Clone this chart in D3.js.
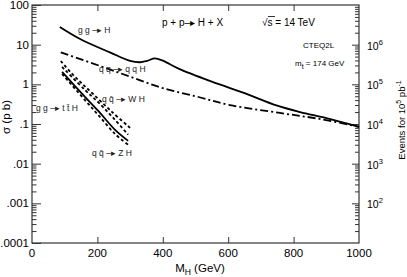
<!DOCTYPE html>
<html>
<head>
<meta charset="utf-8">
<script src="https://cdnjs.cloudflare.com/ajax/libs/d3/7.8.5/d3.min.js"></script>
<style>
  body { margin: 0; background: #fff; }
  svg { font-family: "Liberation Sans", Arial, Helvetica, sans-serif; }
</style>
</head>
<body>
<div id="chart"></div>
<script>
// Higgs production cross sections, p+p at 14 TeV
const massGGH = [85, 150, 240, 300, 330, 352, 376, 400, 450, 550, 650, 750, 820, 900, 1000];
const xsecGGH = [27.9, 13.5, 6.3, 3.9, 3.6, 3.9, 4.5, 3.95, 2.45, 1.17, 0.60, 0.29, 0.20, 0.14, 0.085];

const massQQH = [88, 208, 300, 400, 505, 605, 758, 880, 1000];
const xsecQQH = [6.4, 2.9, 1.56, 0.80, 0.49, 0.30, 0.19, 0.134, 0.085];

const massLow = [88, 122, 153, 187, 245, 300];
const xsecWH  = [3.88, 1.86, 1.04, 0.57, 0.20, 0.08];

const massLow2 = [92, 162, 208, 254, 294];
const xsecVH2 = [2.74, 0.72, 0.32, 0.127, 0.054];
const xsecTTH = [2.05, 0.48, 0.19, 0.071, 0.0375];
const xsecZH  = [1.83, 0.40, 0.15, 0.056, 0.030];

const xTicks = [0, 200, 400, 600, 800, 1000];
const yTicks = [100, 10, 1, 0.1, 0.01, 0.001, 0.0001];
const yTickLabels = ["100", "10", "1", ".1", ".01", ".001", ".0001"];
const evTicks = [1e2, 1e3, 1e4, 1e5, 1e6];
const evExp = ["2", "3", "4", "5", "6"];

const W = 407, H = 277;
const mL = 32, mR = 359, mT = 5, mB = 243;

const svg = d3.select("#chart").append("svg")
    .attr("width", W)
    .attr("height", H);

const x = d3.scaleLinear().domain([0, 1000]).range([mL, mR]);
const y = d3.scaleLog().domain([0.0001, 100]).range([mB, mT]);
const yEv = d3.scaleLog().domain([10, 1e7]).range([mB, mT]);

const line = d3.line()
    .x(d => x(d[0]))
    .y(d => y(d[1]))
    .curve(d3.curveCatmullRom.alpha(0.5));

// frame
svg.append("rect")
    .attr("x", mL).attr("y", mT)
    .attr("width", mR - mL).attr("height", mB - mT)
    .attr("fill", "none").attr("stroke", "#333").attr("stroke-width", 1.2);

// left axis: major and minor ticks inward
svg.append("g").attr("transform", `translate(${mL},0)`)
    .call(d3.axisRight(y).tickValues(yTicks).tickSize(9).tickFormat(""))
    .call(g => g.select(".domain").remove());

let minors = [];
for (let e = -4; e < 2; e++) {
    for (let k = 2; k <= 9; k++) minors.push(k * Math.pow(10, e));
}
svg.append("g").attr("transform", `translate(${mL},0)`)
    .call(d3.axisRight(y).tickValues(minors).tickSize(4.5).tickFormat(""))
    .call(g => g.select(".domain").remove());

svg.append("g").selectAll("text").data(yTicks).join("text")
    .attr("x", mL - 3)
    .attr("y", d => y(d) + 4)
    .attr("text-anchor", "end")
    .attr("font-size", 11.5)
    .text((d, i) => yTickLabels[i]);

// right axis (events)
let evMinors = [];
for (let e = 1; e < 7; e++) {
    for (let k = 2; k <= 9; k++) evMinors.push(k * Math.pow(10, e));
}
svg.append("g").attr("transform", `translate(${mR},0)`)
    .call(d3.axisLeft(yEv).tickValues(evTicks).tickSize(7).tickFormat(""))
    .call(g => g.select(".domain").remove());
svg.append("g").attr("transform", `translate(${mR},0)`)
    .call(d3.axisLeft(yEv).tickValues(evMinors).tickSize(4).tickFormat(""))
    .call(g => g.select(".domain").remove());

const evLab = svg.append("g").selectAll("text").data(evTicks).join("text")
    .attr("x", mR + 8)
    .attr("y", d => yEv(d) + 5)
    .attr("font-size", 10.5);
evLab.append("tspan").text("10");
evLab.append("tspan").attr("dy", -5).attr("font-size", 7.5).text((d, i) => evExp[i]);

// x axis ticks, bottom (up) and top (down)
svg.append("g").attr("transform", `translate(0,${mB})`)
    .call(d3.axisTop(x).tickValues(xTicks.slice(1, -1)).tickSize(6).tickFormat(""))
    .call(g => g.select(".domain").remove());
svg.append("g").attr("transform", `translate(0,${mT})`)
    .call(d3.axisBottom(x).tickValues(xTicks.slice(1, -1)).tickSize(6).tickFormat(""))
    .call(g => g.select(".domain").remove());
svg.selectAll(".tick line").attr("stroke", "#333");

svg.append("g").selectAll("text").data(xTicks).join("text")
    .attr("x", d => x(d))
    .attr("y", mB + 14)
    .attr("text-anchor", "middle")
    .attr("font-size", 11.5)
    .text(d => d);

// curves
const series = [
    { m: massGGH, v: xsecGGH, dash: null },
    { m: massQQH, v: xsecQQH, dash: "8,3,2,3" },
    { m: massLow, v: xsecWH, dash: "3,2.5" },
    { m: massLow2, v: xsecVH2, dash: "3,2.5" },
    { m: massLow2, v: xsecTTH, dash: null },
    { m: massLow2, v: xsecZH, dash: "3,2.5" }
];
svg.append("g").selectAll("path").data(series).join("path")
    .attr("d", s => line(s.m.map((m, i) => [m, s.v[i]])))
    .attr("fill", "none")
    .attr("stroke", "#000")
    .attr("stroke-width", 1.8)
    .attr("stroke-dasharray", s => s.dash);

// process labels
const arrow = "\u2013\u25B8";
const labels = [
    { t: `g g ${arrow} H`, x: 78, y: 33 },
    { t: `q q ${arrow} q q H`, x: 99, y: 72 },
    { t: `q q\u0304 ${arrow} W H`, x: 102, y: 102 },
    { t: `g g ${arrow} t t\u0304 H`, x: 36, y: 111 },
    { t: `q q\u0304 ${arrow} Z H`, x: 92, y: 156 }
];
svg.append("g").selectAll("text").data(labels).join("text")
    .attr("x", d => d.x).attr("y", d => d.y)
    .attr("font-size", 8.5)
    .attr("fill", "#222")
    .text(d => d.t);

svg.append("text").attr("x", 162).attr("y", 26).attr("font-size", 10)
    .text(`p + p${arrow} H + X`);
svg.append("text").attr("x", 262).attr("y", 26).attr("font-size", 10)
    .text("\u221As = 14 TeV");
svg.append("line").attr("x1", 268).attr("x2", 275).attr("y1", 16.5).attr("y2", 16.5)
    .attr("stroke", "#000").attr("stroke-width", 0.8);
svg.append("text").attr("x", 303).attr("y", 48).attr("font-size", 8)
    .text("CTEQ2L");
const mt = svg.append("text").attr("x", 295).attr("y", 66).attr("font-size", 8);
mt.append("tspan").text("m");
mt.append("tspan").attr("dy", 3).attr("font-size", 7).text("t");
mt.append("tspan").attr("dy", -3).text("  = 174 GeV");

// axis titles
const xt = svg.append("text").attr("x", 200).attr("y", 272)
    .attr("text-anchor", "middle").attr("font-size", 11.5);
xt.append("tspan").text("M");
xt.append("tspan").attr("dy", 3).attr("font-size", 8.5).text("H");
xt.append("tspan").attr("dy", -3).text("  (GeV)");

svg.append("text")
    .attr("transform", "translate(10,117) rotate(-90)")
    .attr("text-anchor", "middle").attr("font-size", 11.5)
    .text("\u03C3  (p b)");

const rt = svg.append("text")
    .attr("transform", "translate(405,120) rotate(-90)")
    .attr("text-anchor", "middle").attr("font-size", 9.5);
rt.append("tspan").text("Events for 10");
rt.append("tspan").attr("dy", -4).attr("font-size", 7).text("5");
rt.append("tspan").attr("dy", 4).text(" pb");
rt.append("tspan").attr("dy", -4).attr("font-size", 7).text("-1");
</script>
</body>
</html>
